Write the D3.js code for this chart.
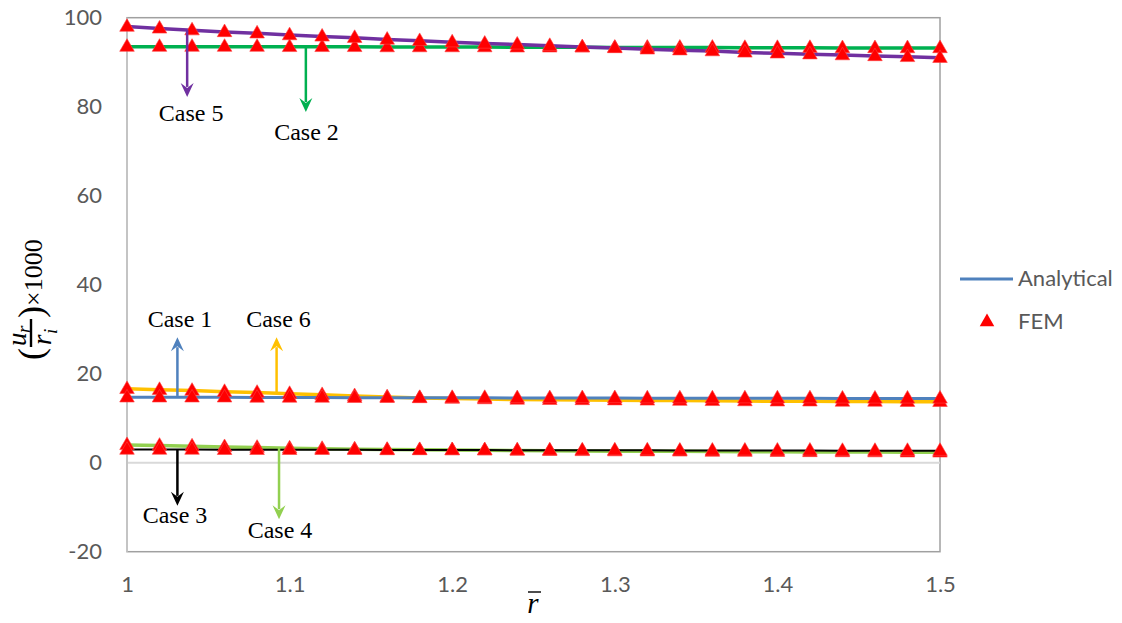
<!DOCTYPE html>
<html>
<head>
<meta charset="utf-8">
<script src="https://cdn.jsdelivr.net/npm/d3@7"></script>
<style>
	body { margin: 0; background: #fff; }
	svg { display: block; }
	.tick-label { font-family: Lato, "Open Sans", sans-serif; font-size: 22px; fill: #595959; }
	.case-label { font-family: "Liberation Serif", serif; font-size: 24px; fill: #000; }
	.math { font-family: "Liberation Serif", serif; fill: #000; }
</style>
</head>
<body>
<div id="graph"></div>
<script>
var rBar = [1.00, 1.02, 1.04, 1.06, 1.08, 1.10, 1.12, 1.14, 1.16, 1.18, 1.20, 1.22, 1.24,
	1.26, 1.28, 1.30, 1.32, 1.34, 1.36, 1.38, 1.40, 1.42, 1.44, 1.46, 1.48, 1.50];

var case1 = [14.7, 14.7, 14.7, 14.7, 14.65, 14.65, 14.65, 14.6, 14.6, 14.6, 14.6, 14.6, 14.55,
	14.55, 14.55, 14.55, 14.5, 14.5, 14.5, 14.5, 14.5, 14.5, 14.45, 14.45, 14.45, 14.45];
var case2 = [93.5, 93.5, 93.5, 93.5, 93.5, 93.45, 93.45, 93.45, 93.4, 93.4, 93.4, 93.4, 93.35,
	93.35, 93.35, 93.3, 93.3, 93.3, 93.3, 93.25, 93.25, 93.25, 93.2, 93.2, 93.2, 93.2];
var case3 = [2.95, 2.95, 2.95, 2.9, 2.9, 2.9, 2.9, 2.9, 2.85, 2.85, 2.85, 2.85, 2.8,
	2.8, 2.8, 2.8, 2.8, 2.75, 2.75, 2.75, 2.75, 2.75, 2.7, 2.7, 2.7, 2.7];
var case4 = [4.0, 3.85, 3.7, 3.55, 3.4, 3.25, 3.15, 3.05, 2.95, 2.9, 2.85, 2.8, 2.75,
	2.7, 2.65, 2.6, 2.58, 2.55, 2.5, 2.48, 2.45, 2.42, 2.4, 2.38, 2.35, 2.33];
var case5 = [98.0, 97.6, 97.2, 96.8, 96.5, 96.1, 95.8, 95.5, 95.1, 94.8, 94.5, 94.2, 94.0,
	93.7, 93.4, 93.2, 92.9, 92.7, 92.5, 92.2, 92.0, 91.8, 91.6, 91.4, 91.2, 91.0];
var case6 = [16.6, 16.4, 16.2, 15.95, 15.75, 15.5, 15.25, 15.0, 14.75, 14.55, 14.4, 14.3, 14.2,
	14.15, 14.1, 14.05, 14.0, 13.95, 13.9, 13.85, 13.8, 13.8, 13.75, 13.75, 13.7, 13.7];

var seriesNames = ["Case 1", "Case 2", "Case 3", "Case 4", "Case 5", "Case 6"];
var seriesValues = [case1, case2, case3, case4, case5, case6];
var seriesColors = ["#4F81BD", "#00B050", "#000000", "#92D050", "#7030A0", "#FFC000"];
var seriesWidths = [3, 3.5, 2, 3.5, 3.5, 3.5];
// draw order as it looks in the picture
var drawOrder = [3, 2, 5, 0, 1, 4];

var xTicks = [1, 1.1, 1.2, 1.3, 1.4, 1.5];
var yTicks = [-20, 0, 20, 40, 60, 80, 100];

// arrow callouts: x position (r), start value, tip value, label x (r), label baseline value
var calloutR = [1.031, 1.110, 1.031, 1.0935, 1.037, 1.092];
var calloutFrom = [15.0, 93.4, 2.9, 3.3, 97.3, 15.7];
var calloutTo = [28.2, 78.8, -9.7, -12.7, 82.2, 28.2];
var labelR = [1.0326, 1.1104, 1.0295, 1.0941, 1.0394, 1.0932];
var labelY = [30.5, 72.5, -13.5, -16.9, 76.8, 30.5];

var legendNames = ["Analytical", "FEM"];

var SVGwidth = 1122, SVGheight = 623,
	plot = {left: 127, right: 940, top: 17.7, bottom: 551.7};

var svg = d3.select("div#graph")
	.append("svg")
	.attr("width", SVGwidth)
	.attr("height", SVGheight);

var x = d3.scaleLinear()
		.domain([1, 1.5])
		.range([plot.left, plot.right]),
	y = d3.scaleLinear()
		.domain([-20, 100])
		.range([plot.bottom, plot.top]);

// plot frame
svg.append("rect")
	.attr("x", plot.left)
	.attr("y", plot.top)
	.attr("width", plot.right - plot.left)
	.attr("height", plot.bottom - plot.top)
	.attr("fill", "none")
	.attr("stroke", "#A0A0A0")
	.attr("stroke-width", 1.5);

svg.append("line")
	.attr("x1", plot.left).attr("x2", plot.right)
	.attr("y1", y(0)).attr("y2", y(0))
	.attr("stroke", "#D9D9D9")
	.attr("stroke-width", 2);

svg.append("line")
	.attr("x1", plot.left).attr("x2", plot.left)
	.attr("y1", plot.top).attr("y2", plot.bottom)
	.attr("stroke", "#C4C4C4")
	.attr("stroke-width", 2);

// axes (text only)
var yAxis = svg.append("g")
	.attr("transform", "translate(" + (plot.left - 22) + ",0)")
	.call(d3.axisLeft(y).tickValues(yTicks).tickSize(0).tickFormat(function(d){ return String(d); }));
var xAxis = svg.append("g")
	.attr("transform", "translate(0," + (plot.bottom + 22) + ")")
	.call(d3.axisBottom(x).tickValues(xTicks).tickSize(0).tickFormat(function(d){ return String(d); }));
svg.selectAll(".domain").remove();
[yAxis, xAxis].forEach(function(ax){
	ax.attr("font-family", null).attr("font-size", null);
	ax.selectAll(".tick text").attr("class", "tick-label").attr("fill", null);
});

// analytical lines
var line = d3.line()
	.x(function(d, i){ return x(rBar[i]); })
	.y(function(d){ return y(d); });

svg.append("g").attr("class", "analytical")
	.selectAll("path")
	.data(drawOrder).enter()
	.append("path")
	.attr("d", function(k){ return line(seriesValues[k]); })
	.attr("fill", "none")
	.attr("stroke", function(k){ return seriesColors[k]; })
	.attr("stroke-width", function(k){ return seriesWidths[k]; })
	.attr("stroke-linejoin", "round");

// FEM markers
var tri = d3.symbol().type(d3.symbolTriangle).size(92);
var femPoints = [];
drawOrder.forEach(function(k){
	seriesValues[k].forEach(function(v, i){ femPoints.push({r: rBar[i], v: v}); });
});
svg.append("g").attr("class", "fem")
	.selectAll("path")
	.data(femPoints).enter()
	.append("path")
	.attr("transform", function(d){ return "translate(" + x(d.r) + "," + (y(d.v) + 0.5) + ")"; })
	.attr("d", tri)
	.attr("fill", "#FF0000")
	.attr("stroke", "#FF4040")
	.attr("stroke-width", 0.6);

// callout arrows
var callouts = svg.append("g").attr("class", "callouts");
seriesNames.forEach(function(name, k){
	var cx = x(calloutR[k]), y0 = y(calloutFrom[k]), y1 = y(calloutTo[k]),
		dir = y1 > y0 ? 1 : -1, headLen = 14, headW = 6.5;
	callouts.append("line")
		.attr("x1", cx).attr("x2", cx)
		.attr("y1", y0).attr("y2", y1 - dir * (headLen - 4))
		.attr("stroke", seriesColors[k])
		.attr("stroke-width", 2.5);
	callouts.append("path")
		.attr("d", "M" + cx + "," + y1 +
			"L" + (cx - headW) + "," + (y1 - dir * headLen) +
			"L" + cx + "," + (y1 - dir * (headLen - 5)) +
			"L" + (cx + headW) + "," + (y1 - dir * headLen) + "Z")
		.attr("fill", seriesColors[k]);
	callouts.append("text")
		.attr("class", "case-label")
		.attr("x", x(labelR[k]))
		.attr("y", y(labelY[k]))
		.attr("text-anchor", "middle")
		.text(name);
});

// legend
var legend = svg.append("g").attr("class", "legend");
legend.append("line")
	.attr("x1", 960).attr("x2", 1013)
	.attr("y1", 279).attr("y2", 279)
	.attr("stroke", seriesColors[0])
	.attr("stroke-width", 3);
legend.append("path")
	.attr("transform", "translate(987,322)")
	.attr("d", tri)
	.attr("fill", "#FF0000");
legend.selectAll("text")
	.data(legendNames).enter()
	.append("text")
	.attr("class", "tick-label")
	.attr("x", 1018)
	.attr("y", function(d, i){ return i === 0 ? 286 : 329; })
	.text(function(d){ return d; });

// x-axis title: r with overbar
var xTitle = svg.append("g").attr("class", "x-title");
xTitle.append("text")
	.attr("class", "math")
	.attr("x", 533).attr("y", 613)
	.attr("text-anchor", "middle")
	.attr("font-size", 29)
	.attr("font-style", "italic")
	.text("r");
xTitle.append("line")
	.attr("x1", 528).attr("x2", 541)
	.attr("y1", 592).attr("y2", 592)
	.attr("stroke", "#000")
	.attr("stroke-width", 1.4);

// y-axis title: (u_r / r_i) x 1000
var yTitle = svg.append("g")
	.attr("class", "y-title")
	.attr("transform", "translate(33,295) rotate(-90)");
yTitle.append("text").attr("class", "math")
	.attr("x", -65).attr("y", 10).attr("font-size", 36).text("(");
yTitle.append("text").attr("class", "math")
	.attr("x", -51).attr("y", -7).attr("font-size", 27).attr("font-style", "italic").text("u");
yTitle.append("text").attr("class", "math")
	.attr("x", -38).attr("y", -3).attr("font-size", 19).attr("font-style", "italic").text("r");
yTitle.append("line")
	.attr("x1", -52).attr("x2", -24)
	.attr("y1", -2).attr("y2", -2)
	.attr("stroke", "#000").attr("stroke-width", 2.4);
yTitle.append("text").attr("class", "math")
	.attr("x", -50).attr("y", 18).attr("font-size", 27).attr("font-style", "italic").text("r");
yTitle.append("text").attr("class", "math")
	.attr("x", -39).attr("y", 24).attr("font-size", 19).attr("font-style", "italic").text("i");
yTitle.append("text").attr("class", "math")
	.attr("x", -23).attr("y", 10).attr("font-size", 36).text(")");
yTitle.append("text").attr("class", "math")
	.attr("x", -11).attr("y", 9).attr("font-size", 26).text("×1000");
</script>
</body>
</html>
